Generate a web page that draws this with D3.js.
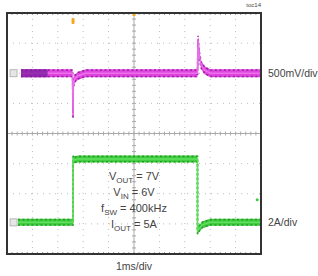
<!DOCTYPE html>
<html>
<head>
<meta charset="utf-8">
<script src="https://cdn.jsdelivr.net/npm/d3@7"></script>
<style>
  body { margin: 0; background: #fff; }
  text { font-family: "Liberation Sans", Arial, sans-serif; fill: #444; }
</style>
</head>
<body>
<div id="viz-wrapper"></div>
<script>
  // size of the svg
  var width = 318,
      height = 276;

  // scope screen, 10 x 8 divisions
  var gLeft = 7, gRight = 261, gTop = 13, gBottom = 254;

  // channel 1: output voltage deviation (mV), 500mV/div, sits 2 div above centre
  var voutTime = [0.55, 2.58, 2.600, 2.61, 2.66, 2.8, 3.1, 7.50, 7.52, 7.56, 7.64, 7.78, 8.0, 10];
  var voutMv   = [0,    0,    -700,  -200, -90,  -40, 0,   0,    570,  330,  140,  50,   0,   0];
  var voutScale = 500, voutOffset = 2.0;

  // channel 2: inductor / load current (A), 2A/div
  var ioutTime = [0.43, 2.60, 2.60, 2.64, 2.8, 7.50, 7.50, 7.54, 7.7, 8.0, 10];
  var ioutAmp  = [0,    0,    4.25, 4.15, 4.2, 4.2,  -0.6,  -0.45, -0.15, 0, 0];
  var ioutScale = 2, ioutOffset = -2.95;

  var labels = ["500mV/div", "2A/div"];
  var notes = ["V|OUT| = 7V", "V|IN| = 6V", "f|SW| = 400kHz", "I|OUT| = 5A"];

  var viz = d3.select("#viz-wrapper")
    .append("svg")
    .attr("width", width)
    .attr("height", height);

  var x = d3.scaleLinear().domain([0, 10]).range([gLeft, gRight]);
  var y = d3.scaleLinear().domain([-4, 4]).range([gBottom, gTop]);

  // dotted graticule
  var grid = viz.append("g");
  grid.selectAll(".vg").data(d3.range(1, 10)).enter().append("line")
    .attr("x1", d => x(d)).attr("x2", d => x(d))
    .attr("y1", gTop).attr("y2", gBottom)
    .attr("stroke", "#bbb").attr("stroke-width", 1)
    .attr("stroke-dasharray", "1,5");
  grid.selectAll(".hg").data(d3.range(-3, 4)).enter().append("line")
    .attr("x1", gLeft).attr("x2", gRight)
    .attr("y1", d => y(d)).attr("y2", d => y(d))
    .attr("stroke", "#bbb").attr("stroke-width", 1)
    .attr("stroke-dasharray", "1,5");

  // centre axes with minor ticks
  grid.append("line").attr("x1", x(5)).attr("x2", x(5)).attr("y1", gTop).attr("y2", gBottom)
    .attr("stroke", "#aaa").attr("stroke-width", 1);
  grid.append("line").attr("x1", gLeft).attr("x2", gRight).attr("y1", y(0)).attr("y2", y(0))
    .attr("stroke", "#aaa").attr("stroke-width", 1);
  var minorX = d3.range(0, 50).map(d => d / 5);
  var minorY = d3.range(-20, 21).map(d => d / 5);
  grid.selectAll(".mx").data(minorX).enter().append("line")
    .attr("x1", d => x(d)).attr("x2", d => x(d))
    .attr("y1", y(0) - 2).attr("y2", y(0) + 2)
    .attr("stroke", "#aaa");
  grid.selectAll(".my").data(minorY).enter().append("line")
    .attr("x1", x(5) - 2).attr("x2", x(5) + 2)
    .attr("y1", d => y(d)).attr("y2", d => y(d))
    .attr("stroke", "#aaa");
  // ticks along the frame
  grid.selectAll(".tx").data(minorX).enter().append("line")
    .attr("x1", d => x(d)).attr("x2", d => x(d))
    .attr("y1", gTop).attr("y2", gTop + 2)
    .attr("stroke", "#999");
  grid.selectAll(".bx").data(minorX).enter().append("line")
    .attr("x1", d => x(d)).attr("x2", d => x(d))
    .attr("y1", gBottom - 2).attr("y2", gBottom)
    .attr("stroke", "#999");

  // builds a noisy band + thin centre line for one channel
  function drawTrace(times, vals, scale, offset, opt) {
    var pts = times.map(function(t, i) { return {t: t, v: vals[i] / scale + offset}; });
    var half = opt.half;
    var band = d3.area()
      .x(d => x(d.t))
      .y0(d => y(d.v) + half)
      .y1(d => y(d.v) - half);
    var line = d3.line().x(d => x(d.t)).y(d => y(d.v));
    var g = viz.append("g");
    g.append("path").datum(pts).attr("d", line)
      .attr("fill", "none").attr("stroke", opt.thin).attr("stroke-width", 1.2);
    g.append("path").datum(pts).attr("d", band)
      .attr("fill", opt.fill);
    // ripple edges
    var edgeTop = d3.line().x(d => x(d.t)).y(d => y(d.v) - half + 0.8);
    var edgeBot = d3.line().x(d => x(d.t)).y(d => y(d.v) + half - 0.8);
    [edgeTop, edgeBot].forEach(function(e) {
      g.append("path").datum(pts).attr("d", e)
        .attr("fill", "none").attr("stroke", opt.edge).attr("stroke-width", 1.6)
        .attr("stroke-dasharray", "2,2.5");
    });
    g.append("path").datum(pts).attr("d", line)
      .attr("fill", "none").attr("stroke", opt.core).attr("stroke-width", 1.5);
    return g;
  }

  drawTrace(voutTime, voutMv, voutScale, voutOffset,
    {half: 4, fill: "#de45de", edge: "#9c1fa4", core: "#ec70ec", thin: "#d040d0"});
  // darker overlap at the start of channel 1
  viz.append("rect")
    .attr("x", x(0.55)).attr("y", y(voutOffset) - 4)
    .attr("width", x(1.6) - x(0.55)).attr("height", 8)
    .attr("fill", "#7a1d9c").attr("opacity", 0.75);

  drawTrace(ioutTime, ioutAmp, ioutScale, ioutOffset,
    {half: 3.5, fill: "#3fcc3f", edge: "#2a9a2a", core: "#5ee05e", thin: "#6fd86f"});

  // ground markers
  [voutOffset, ioutOffset].forEach(function(o) {
    viz.append("rect")
      .attr("x", x(0.12)).attr("y", y(o) - 3.5)
      .attr("width", 7).attr("height", 7)
      .attr("fill", "#e6e6e6").attr("stroke", "#aaa").attr("stroke-width", 0.8);
  });

  // trigger markers
  viz.append("rect").attr("x", x(2.6) - 1.5).attr("y", 18).attr("width", 3).attr("height", 6)
    .attr("rx", 1).attr("fill", "#f5a623");
  viz.append("rect").attr("x", x(5) - 1.5).attr("y", gTop).attr("width", 3).attr("height", 3)
    .attr("fill", "#f5a623");
  viz.append("circle").attr("cx", x(9.85)).attr("cy", y(-2.2)).attr("r", 1.5)
    .attr("fill", "#3fcc3f");

  // frame
  viz.append("rect")
    .attr("x", gLeft).attr("y", gTop)
    .attr("width", gRight - gLeft).attr("height", gBottom - gTop)
    .attr("fill", "none").attr("stroke", "#333").attr("stroke-width", 2);

  // labels
  viz.append("text").attr("x", gRight).attr("y", 7)
    .attr("text-anchor", "end").attr("font-size", 6).text("toc14");
  viz.append("text").attr("x", 268).attr("y", y(voutOffset) + 4)
    .attr("font-size", 10.5).text(labels[0]);
  viz.append("text").attr("x", 268).attr("y", y(ioutOffset) + 4)
    .attr("font-size", 10.5).text(labels[1]);
  viz.append("text").attr("x", x(5)).attr("y", 270)
    .attr("text-anchor", "middle").attr("font-size", 10.5).text("1ms/div");

  // annotation with subscripts
  notes.forEach(function(n, i) {
    var parts = n.split("|");
    var t = viz.append("text").attr("x", x(5)).attr("y", 180 + i * 16)
      .attr("text-anchor", "middle").attr("font-size", 11);
    t.append("tspan").text(parts[0]);
    t.append("tspan").attr("dy", 3).attr("font-size", 8).text(parts[1]);
    t.append("tspan").attr("dy", -3).text(parts[2]);
  });
</script>
</body>
</html>
